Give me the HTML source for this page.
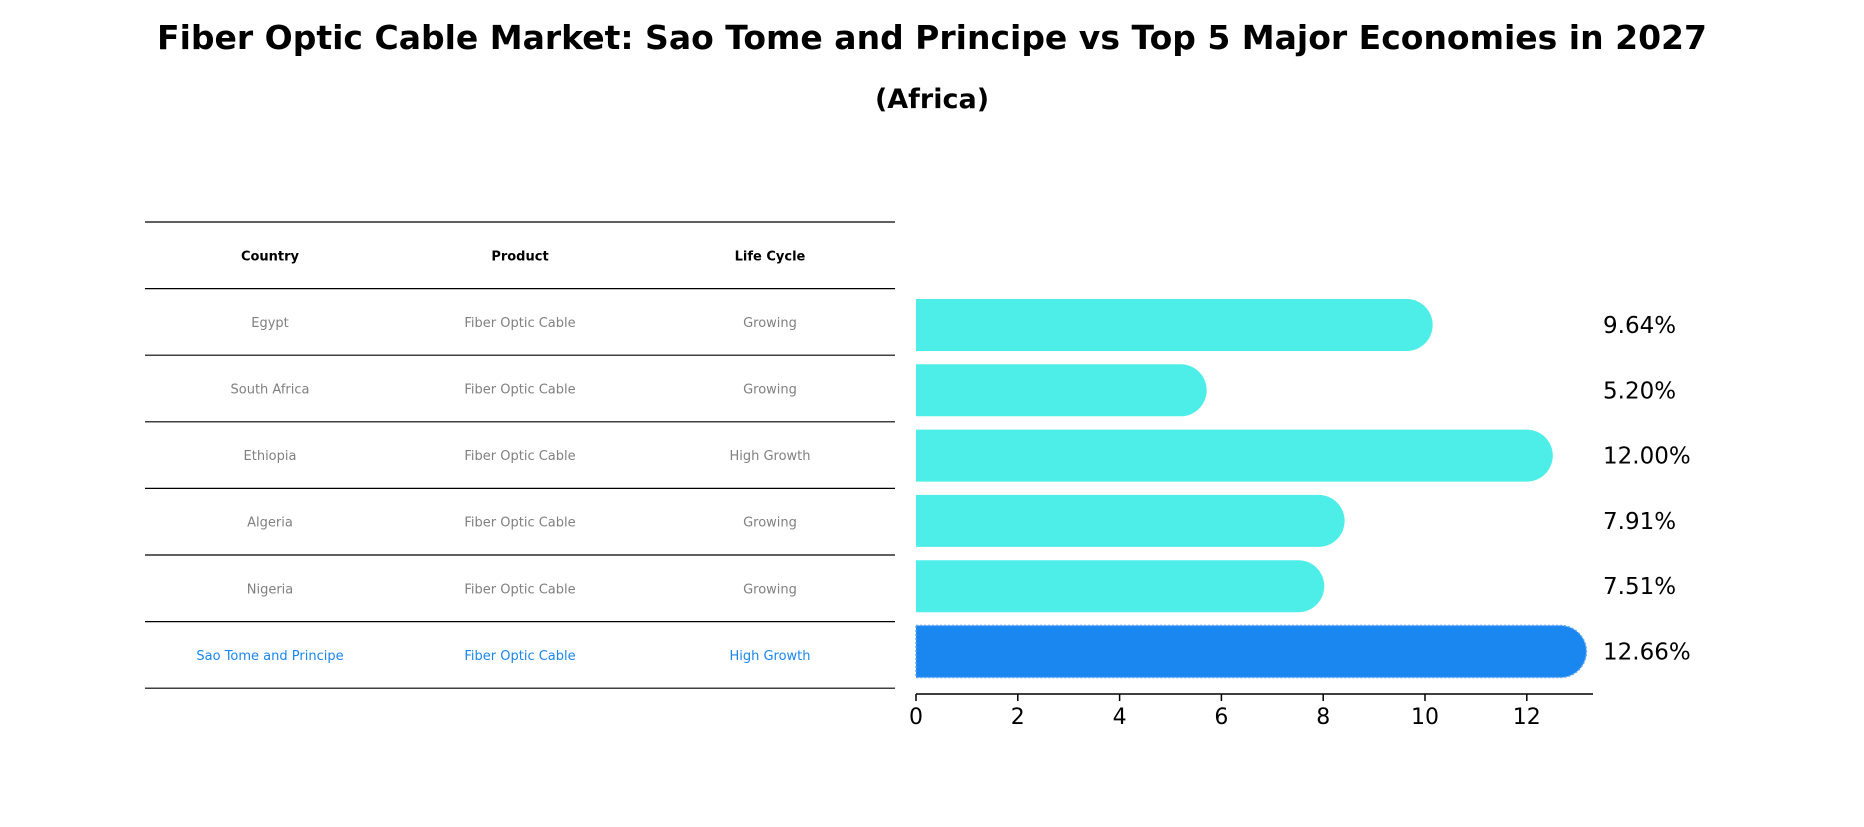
<!DOCTYPE html>
<html><head><meta charset="utf-8"><style>
body{margin:0;background:#fff;font-family:"DejaVu Sans","Liberation Sans",sans-serif}
</style></head><body>
<svg width="1864" height="823" xmlns="http://www.w3.org/2000/svg">
<text x="932" y="49" text-anchor="middle" font-size="33" font-weight="bold">Fiber Optic Cable Market: Sao Tome and Principe vs Top 5 Major Economies in 2027</text>
<text x="932" y="108" text-anchor="middle" font-size="27" font-weight="bold">(Africa)</text>
<g id="table"></g>
<g id="bars"></g>
</svg>
<script>
const countries=["Egypt","South Africa","Ethiopia","Algeria","Nigeria","Sao Tome and Principe"];
const products=["Fiber Optic Cable","Fiber Optic Cable","Fiber Optic Cable","Fiber Optic Cable","Fiber Optic Cable","Fiber Optic Cable"];
const lifeCycles=["Growing","Growing","High Growth","Growing","Growing","High Growth"];
const values=[9.64,5.20,12.00,7.91,7.51,12.66];
const ticks=[0,2,4,6,8,10,12];
const NS="http://www.w3.org/2000/svg";
function mk(tag,attrs,parent,txt){const e=document.createElementNS(NS,tag);for(const k in attrs)e.setAttribute(k,attrs[k]);if(txt!==undefined)e.textContent=txt;parent.appendChild(e);return e;}
const tb=document.getElementById('table');
const rowH=66.6,top0=222,colX=[270,520,770];
for(let i=0;i<=countries.length+1;i++){
 const l=mk('line',{x1:145,x2:895,y1:top0+i*rowH,y2:top0+i*rowH,stroke:'#000','stroke-width':1.2},tb);
 
 
}
["Country","Product","Life Cycle"].forEach((h,j)=>{
 const t=mk('text',{x:colX[j],y:top0+rowH/2+5,'text-anchor':'middle','font-size':13,'font-weight':'bold'},tb,h);
 
 
});
countries.forEach((c,i)=>{
 const hl=i===countries.length-1;
 [c,products[i],lifeCycles[i]].forEach((v,j)=>{
  const t=mk('text',{x:colX[j],y:top0+(i+1.5)*rowH+5,'text-anchor':'middle','font-size':13,fill:hl?'#1a86f0':'#808080'},tb,v);
  
  
 });
});
const bg=document.getElementById('bars');
const x0=916,unit=50.9,yc0=325,step=65.3,bh=52;
const xs=v=>x0+v*unit;
const ys=i=>yc0+i*step;
values.forEach((v,i)=>{
 const hl=i===values.length-1;
 const w=xs(v)-x0+bh/2;
 const r=mk('path',{d:`M${x0},${ys(i)-bh/2} H${x0+w-bh/2} A${bh/2},${bh/2} 0 0 1 ${x0+w-bh/2},${ys(i)+bh/2} H${x0} Z`,fill:hl?'#1a86f0':'#4deee8',stroke:hl?'#5aa8f5':'none','stroke-dasharray':hl?'2,2':'none','stroke-width':hl?1.5:0},bg);
 
 
 const t=mk('text',{x:1603,y:ys(i)+8,'font-size':23},bg,v.toFixed(2)+'%');
 
 
});
const ax=mk('line',{x1:x0,x2:1593,y1:694,y2:694,stroke:'#000','stroke-width':1.5},bg);


ticks.forEach(tv=>{
 const l=mk('line',{x1:xs(tv),x2:xs(tv),y1:694,y2:701,stroke:'#000','stroke-width':1.5},bg);
 
 
 const t=mk('text',{x:xs(tv),y:724,'text-anchor':'middle','font-size':22},bg,String(tv));
 
 
});
</script>
</body></html>
